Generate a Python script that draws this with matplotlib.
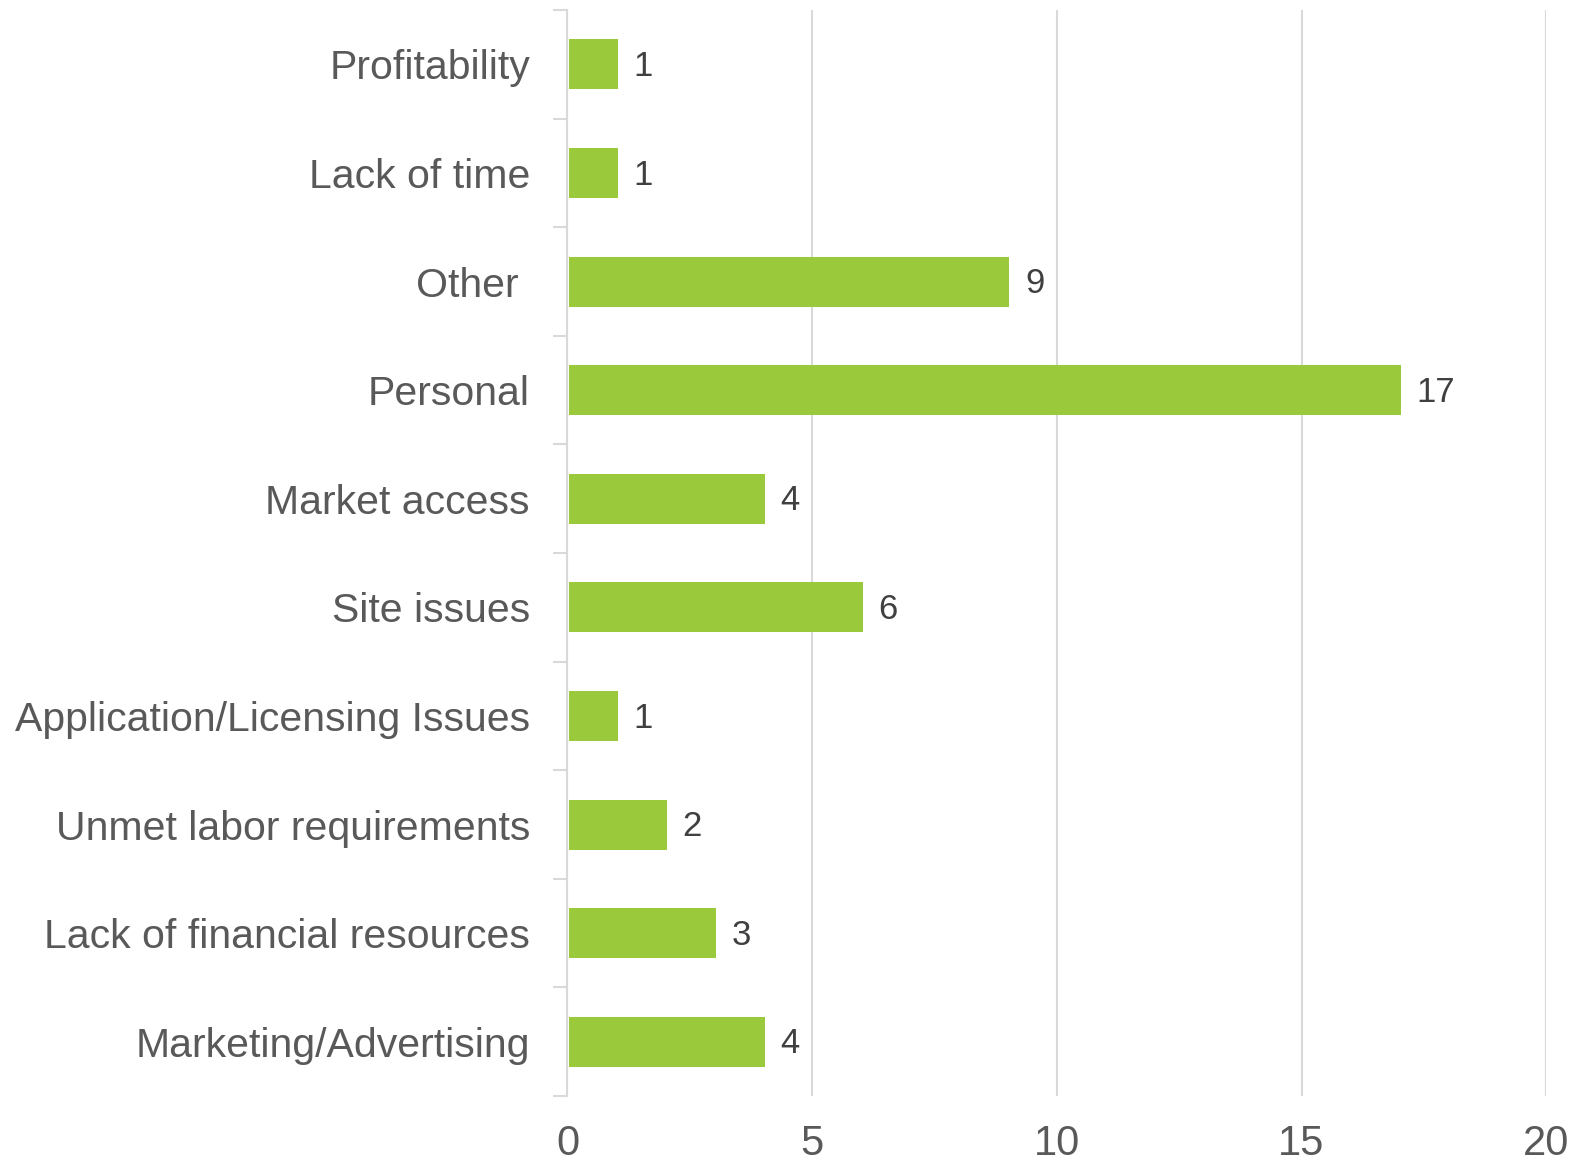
import matplotlib
matplotlib.use("Agg")
import matplotlib.pyplot as plt
from matplotlib import font_manager
import numpy as np

categories = ["Profitability", "Lack of time", "Other ", "Personal", "Market access",
              "Site issues", "Application/Licensing Issues", "Unmet labor requirements",
              "Lack of financial resources", "Marketing/Advertising"]
values = [1, 1, 9, 17, 4, 6, 1, 2, 3, 4]
xticks = [0, 5, 10, 15, 20]

names = {f.name for f in font_manager.fontManager.ttflist}
fam = "Liberation Sans Narrow" if "Liberation Sans Narrow" in names else "Liberation Sans"
plt.rcParams['font.family'] = [fam, 'DejaVu Sans']

fig = plt.figure(figsize=(15.94, 11.67), dpi=100)
ax = fig.add_axes([0.356, 0.0608, 0.614, 0.9306])

n = len(categories)
ypos = np.arange(n)[::-1]
ax.barh(ypos, values, height=0.46, left=0.03, color="#9ACA3C", zorder=3)
for y, v in zip(ypos, values):
    ax.text(v + 0.35, y - 0.02, str(v), va="center", ha="left", fontsize=25, color="#404040")

ax.set_xlim(0, 20)
ax.set_ylim(-0.5, n - 0.5)
ax.set_xticks(xticks)
ax.set_xticklabels([str(t) for t in xticks], fontsize=30, color="#595959")
ax.set_yticks(ypos)
ax.set_yticklabels(categories, fontsize=29.5, color="#595959")
ax.set_yticks(np.arange(-0.5, n, 1.0), minor=True)
ax.tick_params(axis="y", which="major", length=0, pad=27)
ax.tick_params(axis="y", which="minor", length=10, color="#D9D9D9", width=1.5)
ax.tick_params(axis="x", length=0, pad=20)
ax.xaxis.grid(True, color="#D9D9D9", linewidth=1.5, zorder=0)
for s in ["top", "right", "bottom"]:
    ax.spines[s].set_visible(False)
ax.spines["left"].set_color("#D9D9D9")
ax.spines["left"].set_linewidth(1.5)

fig.savefig("out.png", dpi=100)
